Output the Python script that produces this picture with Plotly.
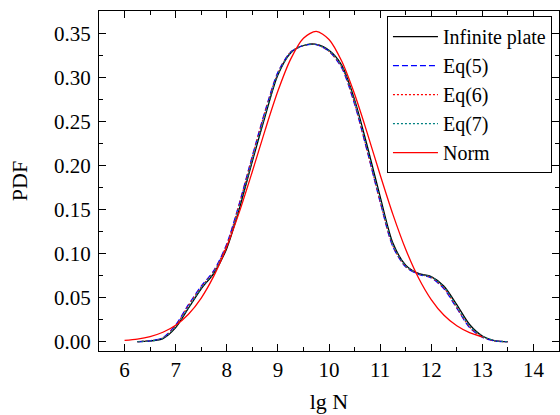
import plotly.graph_objects as go

# ---- data ----
x_grid = [6.25, 6.5, 6.75, 7.0, 7.25, 7.5, 7.75, 8.0, 8.25, 8.5, 8.75, 9.0, 9.25, 9.5,
          9.75, 10.0, 10.25, 10.5, 10.75, 11.0, 11.25, 11.5, 11.75, 12.0, 12.25, 12.5,
          12.75, 13.0, 13.25, 13.5]

infinite_plate = [0.0, 0.0008, 0.0035, 0.016, 0.038, 0.060, 0.078, 0.106, 0.152, 0.205,
                  0.256, 0.303, 0.328, 0.3365, 0.3378, 0.331, 0.314, 0.275, 0.222, 0.165,
                  0.112, 0.087, 0.0775, 0.0740, 0.063, 0.042, 0.0195, 0.0065, 0.001, 0.0]

eq5 = [0.0, 0.001, 0.0045, 0.019, 0.042, 0.063, 0.081, 0.111, 0.158, 0.211,
       0.262, 0.306, 0.329, 0.3365, 0.3375, 0.330, 0.311, 0.270, 0.216, 0.159,
       0.108, 0.085, 0.0765, 0.0725, 0.060, 0.038, 0.0160, 0.005, 0.0008, 0.0]

eq6 = [0.0, 0.001, 0.0042, 0.018, 0.041, 0.062, 0.080, 0.110, 0.157, 0.210,
       0.261, 0.305, 0.329, 0.3365, 0.3376, 0.330, 0.312, 0.271, 0.217, 0.160,
       0.109, 0.0855, 0.077, 0.073, 0.061, 0.039, 0.0168, 0.0055, 0.0009, 0.0]

eq7 = [0.0, 0.0009, 0.0038, 0.017, 0.039, 0.061, 0.079, 0.108, 0.154, 0.207,
       0.258, 0.304, 0.3285, 0.3365, 0.3377, 0.3305, 0.313, 0.273, 0.219, 0.162,
       0.110, 0.086, 0.077, 0.0735, 0.062, 0.040, 0.0180, 0.006, 0.001, 0.0]

norm_x = [6.0, 6.25, 6.5, 6.75, 7.0, 7.25, 7.5, 7.75, 8.0, 8.25, 8.5, 8.75, 9.0, 9.25,
          9.5, 9.75, 10.0, 10.25, 10.5, 10.75, 11.0, 11.25, 11.5, 11.75, 12.0, 12.25,
          12.5, 12.75, 13.0]
norm_y = [0.0015, 0.0030, 0.0058, 0.0107, 0.0187, 0.0312, 0.0496, 0.0750, 0.108, 0.148,
          0.1933, 0.2404, 0.2847, 0.3210, 0.3447, 0.3526, 0.3434, 0.3185, 0.2813, 0.2367,
          0.1896, 0.1446, 0.1050, 0.0727, 0.0479, 0.0300, 0.0180, 0.0102, 0.0055]

x_ticks = [6, 7, 8, 9, 10, 11, 12, 13, 14]
y_ticks = [0.00, 0.05, 0.10, 0.15, 0.20, 0.25, 0.30, 0.35]

FONT = "Liberation Serif, Times New Roman, serif"

fig = go.Figure()
series = [
    ("Infinite plate", x_grid, infinite_plate, "#000000", "solid"),
    ("Eq(5)", x_grid, eq5, "#0000FF", "6px,3px"),
    ("Eq(6)", x_grid, eq6, "#FF0000", "2px,2px"),
    ("Eq(7)", x_grid, eq7, "#008080", "2px,2px"),
    ("Norm", norm_x, norm_y, "#FF0000", "solid"),
]
for name, xs, ys, color, dash in series:
    fig.add_trace(go.Scatter(
        x=xs, y=ys, mode="lines", name=name,
        line=dict(color=color, width=1.3, dash=dash, shape="spline", smoothing=0.8),
    ))

axis_common = dict(
    showgrid=False, zeroline=False, showline=True, linecolor="black", linewidth=1,
    mirror="ticks", ticks="inside", ticklen=7, tickwidth=1, tickcolor="black",
    tickfont=dict(family=FONT, size=21, color="black"),
)

fig.update_xaxes(
    range=[5.5, 14.5], tickvals=x_ticks, ticktext=[str(v) for v in x_ticks],
    minor=dict(ticks="inside", ticklen=4, tickcolor="black", dtick=0.5, tick0=5.5),
    title=dict(text="lg N", font=dict(family=FONT, size=22, color="black"), standoff=12),
    **axis_common,
)
fig.update_yaxes(
    range=[-0.0106, 0.3757], tickvals=y_ticks, ticktext=[f"{v:.2f}" for v in y_ticks],
    minor=dict(ticks="inside", ticklen=4, tickcolor="black", dtick=0.025, tick0=0),
    title=dict(text="PDF", font=dict(family=FONT, size=22, color="black"), standoff=20),
    ticklabelstandoff=3,
    **axis_common,
)

fig.update_layout(
    width=560, height=415,
    margin=dict(l=99, r=1, t=11, b=64),
    paper_bgcolor="white", plot_bgcolor="white",
    font=dict(family=FONT, size=21, color="black"),
    showlegend=True,
    legend=dict(
        x=0.626, xanchor="left", y=0.985, yanchor="top",
        bgcolor="white", bordercolor="black", borderwidth=1,
        font=dict(family=FONT, size=20, color="black"),
        tracegroupgap=0, itemwidth=45,
    ),
)

fig.write_html("out.html", config={"displayModeBar": False},
               post_script="document.body.style.margin='0';")
